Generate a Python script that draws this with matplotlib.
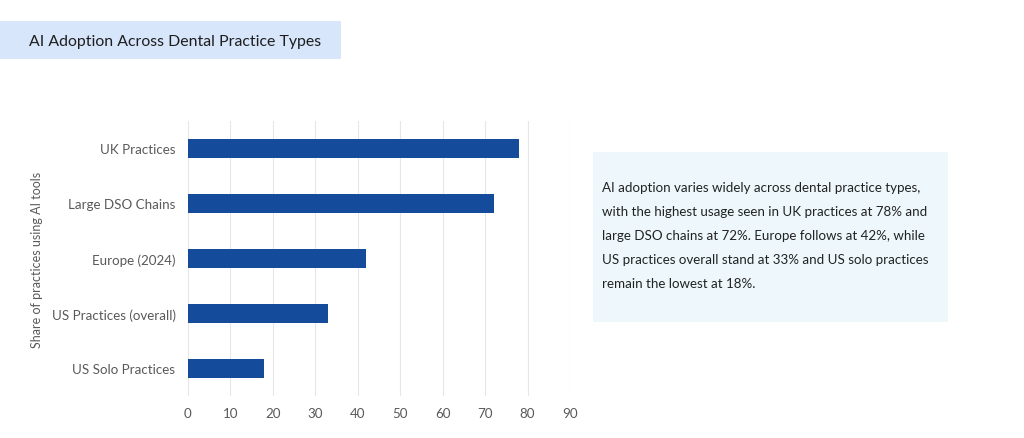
import matplotlib.pyplot as plt
from matplotlib.patches import Rectangle

plt.rcParams['font.family'] = ['Lato', 'DejaVu Sans']

# ----------------- Data -----------------
categories = ["US Solo Practices", "US Practices (overall)", "Europe (2024)",
              "Large DSO Chains", "UK Practices"]
adoption = [18, 33, 42, 72, 78]
x_ticks = [0, 10, 20, 30, 40, 50, 60, 70, 80, 90]

title = "AI Adoption Across Dental Practice Types"
summary = ("AI adoption varies widely across dental practice types,\n"
           "with the highest usage seen in UK practices at 78% and\n"
           "large DSO chains at 72%. Europe follows at 42%, while\n"
           "US practices overall stand at 33% and US solo practices\n"
           "remain the lowest at 18%.")

W, H = 1024, 439
fig = plt.figure(figsize=(W / 100, H / 100), dpi=100)
fig.patch.set_facecolor("white")

# ----------------- Title box -----------------
fig.patches.append(Rectangle((0, 1 - 60 / H), 341 / W, 38 / H,
                             transform=fig.transFigure, facecolor="#d7e6fb",
                             edgecolor="none", zorder=0))
fig.text(29 / W, 1 - 42 / H, title, fontsize=11.4, color="#1e1e1e",
         va="center", ha="left")

# ----------------- Bar chart -----------------
ax = fig.add_axes([188 / W, 1 - 397 / H, 382 / W, 275 / H])
ax.barh(range(len(categories)), adoption, height=0.35, color="#144b9a", zorder=3)
ax.set_xlim(0, 90)
ax.set_ylim(-0.5, len(categories) - 0.5)
ax.set_xticks(x_ticks)
ax.set_yticks(range(len(categories)))
ax.set_yticklabels(categories)
ax.grid(axis="x", color="#e6e6e6", linewidth=0.8, zorder=0)
for s in ax.spines.values():
    s.set_visible(False)
ax.tick_params(axis="both", length=0, labelsize=9.6, colors="#595959")
ax.tick_params(axis="y", pad=9)
ax.tick_params(axis="x", pad=8)
ax.set_ylabel("Share of practices using AI tools", fontsize=9, color="#595959")
ax.yaxis.set_label_coords(-0.38, 0.5)

# ----------------- Summary box -----------------
fig.patches.append(Rectangle((593 / W, 1 - 323 / H), 355 / W, 170 / H,
                             transform=fig.transFigure, facecolor="#eef8fc",
                             edgecolor="none", zorder=0))
fig.text(602 / W, 1 - 182 / H, summary, fontsize=9.6, color="#222222",
         va="top", ha="left", linespacing=2.2)

fig.savefig("out.png", dpi=100)
